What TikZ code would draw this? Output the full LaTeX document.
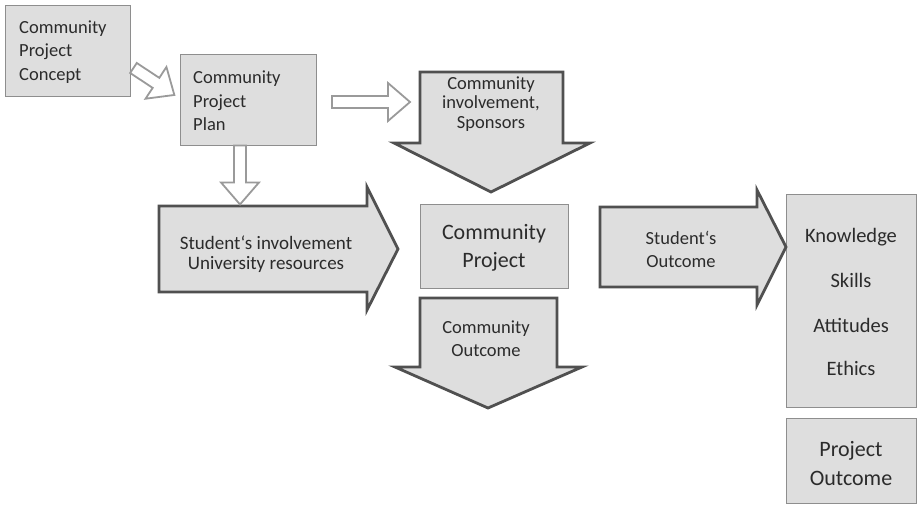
\documentclass[tikz,border=0pt]{standalone}
\usepackage{fontspec}
\setmainfont{Carlito}
\definecolor{boxfill}{HTML}{DEDEDE}
\definecolor{boxline}{HTML}{8E8E8E}
\definecolor{arrowline}{HTML}{505050}
\definecolor{hollowline}{HTML}{9A9A9A}
\definecolor{txt}{HTML}{2B2B2B}
\begin{document}
\begin{tikzpicture}[x=1pt,y=-1pt,
  box/.style={draw=boxline, fill=boxfill, line width=0.9pt, inner sep=0pt},
  bigarrow/.style={draw=arrowline, fill=boxfill, line width=2.8pt, line join=miter},
  hollow/.style={draw=hollowline, fill=white, line width=1.8pt, line join=miter},
  lbl/.style={text=txt, inner sep=0pt, align=center},
  small/.style={font=\fontsize{18.5}{23.5}\selectfont},
  pics/harrow/.style={code={
    \draw[hollow] (0,-6) -- ({#1-22},-6) -- ({#1-22},-19) -- (#1,0)
      -- ({#1-22},19) -- ({#1-22},6) -- (0,6) -- cycle;}}
]
\useasboundingbox (0,0) rectangle (917,505);

% plain boxes
\node[box, minimum width=125pt, minimum height=91pt] (concept) at (67.5,50.5) {};
\node[box, minimum width=136pt, minimum height=91pt] (plan) at (248,99.5) {};
\node[box, minimum width=148pt, minimum height=84pt] (project) at (494,246) {};
\node[box, minimum width=130pt, minimum height=213pt] (skills) at (851,300.5) {};
\node[box, minimum width=130pt, minimum height=85pt] (projout) at (851,461) {};

% block arrows
\draw[bigarrow] (420,72) -- (563,72) -- (563,143) -- (590,143) -- (491,192)
  -- (394,143) -- (420,143) -- cycle;
\draw[bigarrow] (420,298) -- (557,298) -- (557,367) -- (582,367) -- (488,408)
  -- (395,367) -- (420,367) -- cycle;
\draw[bigarrow] (159,206) -- (367,206) -- (367,187) -- (398,249) -- (367,310)
  -- (367,292) -- (159,292) -- cycle;
\draw[bigarrow] (600,207) -- (757,207) -- (757,190) -- (786,247) -- (757,305)
  -- (757,287) -- (600,287) -- cycle;

% hollow arrows leaving the concept and the plan
\coordinate (c1) at (concept.east |- 0,68);
\coordinate (p1) at (240,0 |- plan.south);
\coordinate (p2) at (332,102);
\pic[rotate=-33.4] at ([xshift=3pt]c1) {harrow=49};
\pic[rotate=-90] at (p1) {harrow=59};
\pic at (p2) {harrow=78};

% labels
\node[lbl, small, anchor=west, align=left] (tconcept) at (19,52)
  {Community\\Project\\Concept};
\node[lbl, small, anchor=west, align=left] (tplan) at (193,101)
  {Community\\Project\\Plan};
\node[lbl, font=\fontsize{18.5}{19.5}\selectfont] (tspons) at (491,104)
  {Community\\involvement,\\Sponsors};
\node[lbl, font=\fontsize{19}{20}\selectfont] (tstud) at (266,254)
  {Student‘s involvement\\University resources};
\node[lbl, font=\fontsize{22}{28}\selectfont] (tproj) at (494,248)
  {Community\\Project};
\node[lbl, font=\fontsize{18.5}{23}\selectfont] (tcomout) at (486,339)
  {Community\\Outcome};
\node[lbl, font=\fontsize{18.5}{23}\selectfont] (tstudout) at (681,249)
  {Student‘s\\Outcome};
\node[lbl, font=\fontsize{20.5}{24}\selectfont] (tk) at (851,237) {Knowledge};
\node[lbl, font=\fontsize{20.5}{24}\selectfont] (ts) at (851,280) {Skills};
\node[lbl, font=\fontsize{20.5}{24}\selectfont] (ta) at (851,325) {Attitudes};
\node[lbl, font=\fontsize{20.5}{24}\selectfont] (te) at (851,368) {Ethics};
\node[lbl, font=\fontsize{22}{29}\selectfont] (tpo) at (851,464)
  {Project\\Outcome};
\end{tikzpicture}
\end{document}
